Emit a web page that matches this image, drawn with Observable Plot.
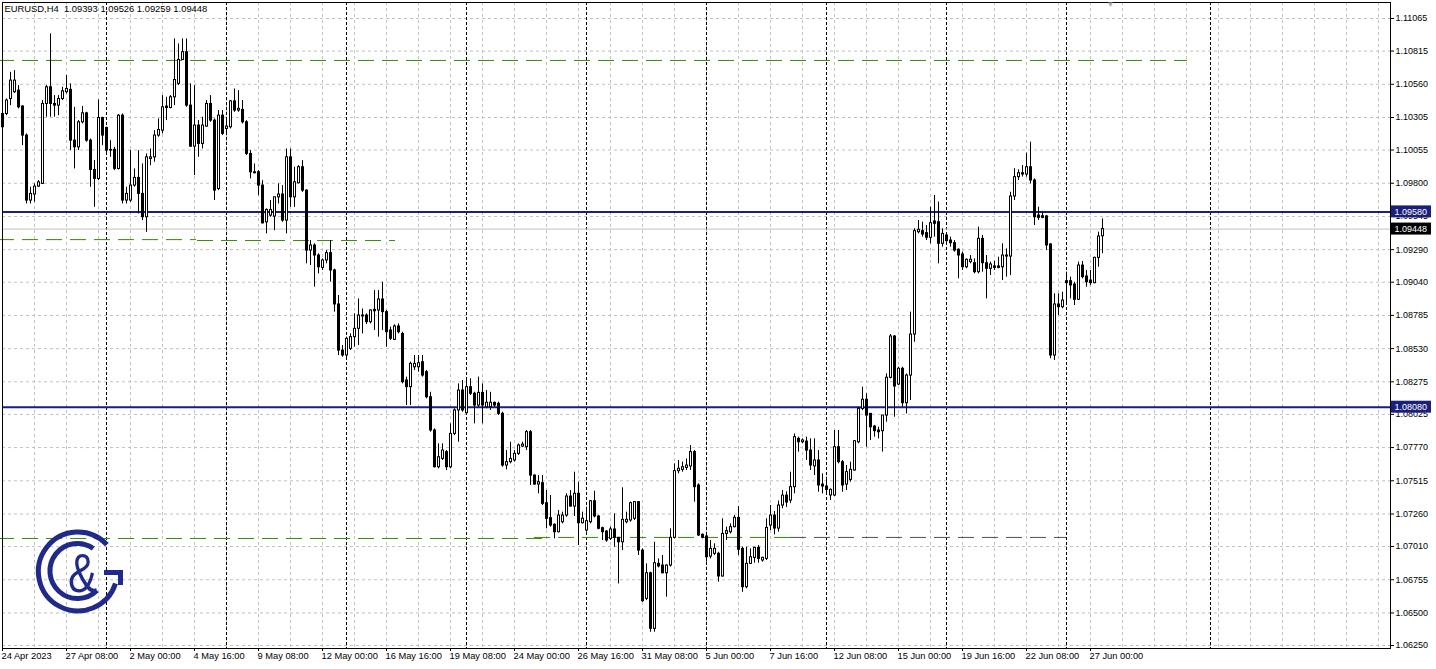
<!DOCTYPE html>
<html><head><meta charset="utf-8">
<script src="https://cdn.jsdelivr.net/npm/d3@7"></script>
<script src="https://cdn.jsdelivr.net/npm/@observablehq/plot@0.6"></script>
<style>
html,body{margin:0;padding:0;background:#fff;}
#wrap{position:relative;width:1436px;height:669px;overflow:hidden;}
#logo{position:absolute;left:0;top:0;pointer-events:none;}
</style></head><body><div id="wrap"></div>
<script>
// EURUSD H4 bars, 24 Apr 2023 16:00 .. 27 Jun 2023 12:00 (bar index 0..275)
const open = [
1.10230,1.10332,1.10447,1.10499,1.10511,1.10389,1.10166,1.09667,1.09713,1.09774,
1.09795,1.10409,1.10537,1.10409,1.10396,1.10447,1.10499,1.10517,1.10127,1.10076,
1.10268,1.10337,1.10127,1.09902,1.09833,1.10301,1.10225,1.10051,1.10056,1.09910,
1.10319,1.09667,1.09667,1.09782,1.09841,1.09718,1.09539,1.09987,1.09999,1.10166,
1.10204,1.10378,1.10378,1.10460,1.10563,1.10747,1.10806,1.10396,1.10081,1.10243,
1.10102,1.10235,1.10409,1.10281,1.09756,1.10319,1.10217,1.10230,1.10429,1.10358,
1.10363,1.10268,1.10025,1.09884,1.09884,1.09782,1.09500,1.09551,1.09544,1.09692,
1.09713,1.09513,1.09999,1.09692,1.09800,1.09923,1.09743,1.09283,1.09322,1.09245,
1.09150,1.09207,1.09263,1.09130,1.08869,1.08515,1.08477,1.08528,1.08618,1.08682,
1.08777,1.08784,1.08733,1.08817,1.08823,1.08907,1.08810,1.08669,1.08597,1.08700,
1.08643,1.08285,1.08234,1.08387,1.08387,1.08426,1.08349,1.08157,1.07901,1.07619,
1.07683,1.07735,1.07619,1.07875,1.08055,1.08208,1.08034,1.08234,1.08183,1.08093,
1.08190,1.08080,1.08080,1.08114,1.08106,1.08029,1.07632,1.07658,1.07671,1.07722,
1.07778,1.07773,1.07888,1.07555,1.07486,1.07497,1.07343,1.07228,1.07177,1.07120,
1.07197,1.07248,1.07394,1.07317,1.07415,1.07189,1.07133,1.07197,1.07358,1.07241,
1.07151,1.07125,1.07069,1.07141,1.07077,1.07043,1.07197,1.07210,1.07223,1.07351,
1.06979,1.06608,1.06805,1.06378,1.06877,1.06864,1.06805,1.06864,1.07077,1.07589,
1.07599,1.07614,1.07625,1.07735,1.07479,1.07100,1.07087,1.06933,1.06954,1.06954,
1.06780,1.07107,1.07120,1.07159,1.07230,1.06992,1.06698,1.06877,1.06923,1.07000,
1.06903,1.06915,1.07171,1.07248,1.07148,1.07325,1.07401,1.07363,1.07466,1.07837,
1.07811,1.07816,1.07747,1.07625,1.07671,1.07486,1.07471,1.07402,1.07402,1.07773,
1.07658,1.07486,1.07522,1.07594,1.07811,1.08067,1.08137,1.08029,1.07931,1.07901,
1.07896,1.08016,1.08306,1.08623,1.08254,1.08375,1.08111,1.08323,1.08638,1.09424,
1.09432,1.09417,1.09381,1.09506,1.09501,1.09335,1.09399,1.09360,1.09340,1.09289,
1.09253,1.09155,1.09194,1.09186,1.09117,1.09373,1.09186,1.09143,1.09161,1.09150,
1.09155,1.09237,1.09237,1.09698,1.09847,1.09877,1.09867,1.09923,1.09821,1.09552,
1.09547,1.09545,1.09330,1.08477,1.08869,1.08848,1.09048,1.09048,1.09022,1.08905,
1.09168,1.09084,1.09053,1.09033,1.09227,1.09393];
const high = [
1.10371,1.10447,1.10652,1.10665,1.10550,1.10396,1.10179,1.09769,1.09795,1.09820,
1.10435,1.10550,1.10947,1.10473,1.10473,1.10537,1.10627,1.10563,1.10383,1.10281,
1.10389,1.10345,1.10140,1.09974,1.10440,1.10307,1.10230,1.10127,1.10076,1.10327,
1.10332,1.09769,1.10051,1.09910,1.10051,1.09948,1.10025,1.10063,1.10204,1.10294,
1.10473,1.10460,1.10473,1.10908,1.10870,1.10908,1.10908,1.10563,1.10550,1.10281,
1.10307,1.10435,1.10473,1.10294,1.10358,1.10358,1.10281,1.10435,1.10524,1.10511,
1.10435,1.10281,1.10051,1.09948,1.09897,1.09820,1.09603,1.09667,1.09692,1.09795,
1.09782,1.10063,1.10063,1.09923,1.09935,1.09974,1.09750,1.09360,1.09335,1.09258,
1.09219,1.09283,1.09360,1.09140,1.08938,1.08554,1.08618,1.08643,1.08797,1.08912,
1.08835,1.08797,1.08828,1.08976,1.08976,1.09040,1.08823,1.08695,1.08713,1.08720,
1.08656,1.08311,1.08426,1.08477,1.08477,1.08477,1.08362,1.08195,1.07914,1.07799,
1.07799,1.07747,1.07952,1.08068,1.08259,1.08285,1.08285,1.08298,1.08195,1.08311,
1.08259,1.08208,1.08195,1.08119,1.08119,1.08042,1.07747,1.07811,1.07747,1.07797,
1.07811,1.07901,1.07901,1.07560,1.07555,1.07555,1.07440,1.07402,1.07184,1.07287,
1.07274,1.07415,1.07440,1.07581,1.07504,1.07274,1.07312,1.07363,1.07435,1.07248,
1.07159,1.07133,1.07159,1.07261,1.07080,1.07461,1.07274,1.07351,1.07356,1.07356,
1.06992,1.06877,1.06813,1.07043,1.06915,1.06941,1.06870,1.07146,1.07645,1.07671,
1.07658,1.07683,1.07786,1.07747,1.07492,1.07107,1.07095,1.07056,1.07031,1.06966,
1.07223,1.07159,1.07184,1.07248,1.07317,1.07005,1.07005,1.06992,1.07005,1.07018,
1.06928,1.07223,1.07325,1.07280,1.07360,1.07440,1.07430,1.07581,1.07875,1.07850,
1.07837,1.07850,1.07837,1.07837,1.07747,1.07568,1.07543,1.07453,1.07901,1.07901,
1.07671,1.07632,1.07658,1.07824,1.08080,1.08234,1.08183,1.08029,1.07940,1.07926,
1.08016,1.08336,1.08638,1.08630,1.08387,1.08387,1.08336,1.08810,1.09450,1.09514,
1.09501,1.09475,1.09616,1.09706,1.09655,1.09450,1.09411,1.09386,1.09360,1.09296,
1.09271,1.09219,1.09245,1.09219,1.09463,1.09399,1.09245,1.09194,1.09201,1.09232,
1.09335,1.09296,1.09731,1.09911,1.09903,1.09936,1.10031,1.10115,1.09834,1.09616,
1.09578,1.09552,1.09335,1.08951,1.08951,1.08963,1.09117,1.09079,1.09040,1.09194,
1.09199,1.09130,1.09130,1.09232,1.09424,1.09526];
const low = [
1.10127,1.10319,1.10396,1.10490,1.10371,1.10089,1.09641,1.09641,1.09654,1.09769,
1.09790,1.10307,1.10307,1.10307,1.10319,1.10435,1.10486,1.10051,1.09910,1.10051,
1.10255,1.10115,1.09769,1.09615,1.09820,1.10089,1.10012,1.09999,1.09897,1.09902,
1.09641,1.09641,1.09654,1.09769,1.09564,1.09513,1.09423,1.09935,1.09961,1.10153,
1.10179,1.10281,1.10371,1.10396,1.10550,1.10742,1.10383,1.10076,1.09859,1.09999,
1.10063,1.10230,1.10268,1.09667,1.09743,1.10166,1.10179,1.10217,1.10345,1.10345,
1.10255,1.10012,1.09833,1.09872,1.09705,1.09487,1.09411,1.09539,1.09436,1.09641,
1.09500,1.09411,1.09615,1.09615,1.09795,1.09730,1.09181,1.09168,1.09002,1.09104,
1.09130,1.09181,1.09040,1.08810,1.08477,1.08464,1.08451,1.08515,1.08541,1.08554,
1.08643,1.08715,1.08720,1.08669,1.08618,1.08669,1.08541,1.08592,1.08592,1.08643,
1.08259,1.08093,1.08093,1.08362,1.08349,1.08311,1.08144,1.07888,1.07614,1.07607,
1.07671,1.07594,1.07607,1.07862,1.07811,1.08042,1.08029,1.08170,1.07952,1.08080,
1.07952,1.08068,1.08055,1.08080,1.08016,1.07619,1.07599,1.07645,1.07658,1.07709,
1.07770,1.07747,1.07479,1.07480,1.07415,1.07325,1.07146,1.07159,1.07069,1.07115,
1.07184,1.07235,1.07312,1.07241,1.07018,1.07184,1.07120,1.07184,1.07230,1.07138,
1.07056,1.07043,1.07056,1.07005,1.06723,1.06979,1.07184,1.07197,1.07210,1.06941,
1.06582,1.06595,1.06352,1.06352,1.06846,1.06800,1.06621,1.06852,1.07069,1.07568,
1.07581,1.07594,1.07594,1.07351,1.07087,1.07069,1.06890,1.06915,1.06941,1.06736,
1.06775,1.07056,1.07107,1.07153,1.06941,1.06659,1.06685,1.06872,1.06882,1.06882,
1.06890,1.06903,1.07133,1.07100,1.07120,1.07300,1.07310,1.07340,1.07415,1.07735,
1.07799,1.07671,1.07594,1.07555,1.07427,1.07415,1.07402,1.07363,1.07394,1.07645,
1.07427,1.07440,1.07504,1.07589,1.07799,1.08054,1.07773,1.07824,1.07850,1.07837,
1.07735,1.07965,1.08298,1.08003,1.08246,1.08080,1.08029,1.08131,1.08579,1.09411,
1.09386,1.09360,1.09335,1.09386,1.09181,1.09309,1.09347,1.09309,1.09271,1.09066,
1.09130,1.09143,1.09181,1.09104,1.09104,1.09117,1.08912,1.09091,1.09130,1.09143,
1.09053,1.09079,1.09091,1.09667,1.09821,1.09847,1.09847,1.09795,1.09475,1.09514,
1.09527,1.09283,1.08452,1.08439,1.08784,1.08835,1.08861,1.08912,1.08861,1.08899,
1.09066,1.09002,1.09015,1.09028,1.09155,1.09259];
const close = [
1.10332,1.10435,1.10588,1.10588,1.10383,1.10166,1.09667,1.09718,1.09774,1.09807,
1.10409,1.10537,1.10409,1.10396,1.10447,1.10506,1.10524,1.10127,1.10076,1.10268,
1.10337,1.10127,1.09902,1.09833,1.10301,1.10166,1.10051,1.10056,1.09910,1.10319,
1.09667,1.09718,1.09782,1.09841,1.09718,1.09539,1.09999,1.09999,1.10166,1.10209,
1.10383,1.10389,1.10460,1.10593,1.10747,1.10806,1.10396,1.10081,1.10243,1.10102,
1.10243,1.10409,1.10281,1.09743,1.10319,1.10179,1.10235,1.10429,1.10358,1.10371,
1.10268,1.10025,1.09884,1.09877,1.09782,1.09492,1.09595,1.09595,1.09692,1.09713,
1.09513,1.09999,1.09692,1.09807,1.09923,1.09743,1.09283,1.09322,1.09245,1.09155,
1.09207,1.09263,1.09130,1.08869,1.08515,1.08477,1.08605,1.08618,1.08682,1.08784,
1.08784,1.08733,1.08823,1.08828,1.08907,1.08810,1.08656,1.08605,1.08700,1.08656,
1.08272,1.08234,1.08413,1.08413,1.08418,1.08323,1.08157,1.07901,1.07619,1.07696,
1.07747,1.07619,1.07875,1.08055,1.08208,1.08055,1.08234,1.08183,1.08093,1.08190,
1.08093,1.08114,1.08114,1.08093,1.08029,1.07632,1.07658,1.07683,1.07722,1.07786,
1.07793,1.07888,1.07555,1.07486,1.07504,1.07338,1.07223,1.07171,1.07120,1.07248,
1.07248,1.07394,1.07317,1.07415,1.07189,1.07223,1.07205,1.07358,1.07241,1.07146,
1.07120,1.07056,1.07141,1.07077,1.07043,1.07215,1.07215,1.07343,1.07351,1.06979,
1.06590,1.06805,1.06378,1.06882,1.06857,1.06805,1.06864,1.07077,1.07589,1.07607,
1.07619,1.07632,1.07735,1.07466,1.07095,1.07077,1.06928,1.06992,1.06992,1.06780,
1.07107,1.07128,1.07159,1.07230,1.06985,1.06698,1.06877,1.06928,1.07000,1.06915,
1.06923,1.07153,1.07248,1.07148,1.07325,1.07401,1.07348,1.07466,1.07850,1.07811,
1.07824,1.07747,1.07632,1.07671,1.07479,1.07471,1.07445,1.07445,1.07773,1.07658,
1.07479,1.07581,1.07599,1.07819,1.08067,1.08137,1.08016,1.07926,1.07896,1.07888,
1.08016,1.08306,1.08623,1.08239,1.08375,1.08111,1.08323,1.08638,1.09432,1.09442,
1.09406,1.09381,1.09493,1.09488,1.09335,1.09411,1.09355,1.09340,1.09283,1.09245,
1.09155,1.09212,1.09212,1.09117,1.09373,1.09186,1.09143,1.09176,1.09150,1.09161,
1.09245,1.09245,1.09698,1.09847,1.09877,1.09867,1.09923,1.09821,1.09539,1.09534,
1.09534,1.09322,1.08477,1.08869,1.08848,1.08899,1.09033,1.09015,1.08905,1.09168,
1.09079,1.09040,1.09033,1.09227,1.09391,1.09448];

const priceTicks = [1.11065,1.10815,1.10560,1.10305,1.10055,1.09800,1.09545,1.09290,1.09040,1.08785,
  1.08530,1.08275,1.08025,1.07770,1.07515,1.07260,1.07010,1.06755,1.06500,1.06250];
const timeTickBars = [0,16,32,48,64,80,96,112,128,144,160,176,192,208,224,240,256,272];
const timeTickLabels = ["24 Apr 2023","27 Apr 08:00","2 May 00:00","4 May 16:00","9 May 08:00","12 May 00:00",
  "16 May 16:00","19 May 08:00","24 May 00:00","26 May 16:00","31 May 08:00","5 Jun 00:00","7 Jun 16:00",
  "12 Jun 08:00","15 Jun 00:00","19 Jun 16:00","22 Jun 08:00","27 Jun 00:00"];
const weekStartBars = [26,56,86,116,146,176,206,236,266,302];
const levelPrices = [1.09580, 1.08080];
const bidPrice = [1.09448];
const greenLevelPrice = [1.10743, 1.09367, 1.09360, 1.07072, 1.07080];
const greenLevelFrom  = [-1, -1, 48.75, -1, 133];
const greenLevelTo    = [296.25, 48.5, 98.25, 135, 197];
const grayLevelPrice = [1.07080];
const grayLevelFrom = [197];
const grayLevelTo = [266];
const titleText = "EURUSD,H4\u00a0\u00a01.09393 1.09526 1.09259 1.09448";
const shiftMarkerBar = [277];

// ---- build tables
const bars = open.map((o, i) => ({i, o, h: high[i], l: low[i], c: close[i], top: Math.max(o, close[i]), bot: Math.min(o, close[i])}));
const bullBodies = bars.filter(d => d.c - d.o > 0.00012);
const greens = greenLevelPrice.map((p, k) => ({price: p, from: greenLevelFrom[k], to: greenLevelTo[k]}));
const grays = grayLevelPrice.map((p, k) => ({price: p, from: grayLevelFrom[k], to: grayLevelTo[k]}));
const timeTicks = timeTickBars.map((b, k) => ({bar: b, label: timeTickLabels[k]}));
const navy = "#1b1f7c";
const green = "#3a8a00";
const grid = "#c0c0c0";
const lastBar = 347; // right edge of plotting area in bar units
const boxes = [
  ...levelPrices.map(p => ({price: p, bg: navy})),
  ...bidPrice.map(p => ({price: p, bg: "black"}))
];
const halfBox = 0.00046;

const chart = Plot.plot({
  width: 1436, height: 669,
  marginTop: 2, marginLeft: 2, marginRight: 46, marginBottom: 21,
  x: {domain: [0, lastBar], axis: null},
  y: {domain: [1.06227, 1.11188], axis: null},
  style: {background: "white", fontFamily: "'Liberation Sans', Arial, sans-serif", fontSize: "9px", color: "black", overflow: "visible"},
  marks: [
    Plot.ruleY(priceTicks, {stroke: grid, strokeDasharray: "3,3"}),
    Plot.ruleX(d3.range(0, lastBar + 1, 8), {stroke: grid, strokeDasharray: "3,3"}),
    Plot.ruleX(weekStartBars, {stroke: "black", strokeDasharray: "3,2"}),
    Plot.ruleY(bidPrice, {stroke: "#c0c0c0"}),
    Plot.ruleY(levelPrices, {stroke: navy, strokeWidth: 2}),
    Plot.ruleY(greens, {y: "price", x1: "from", x2: "to", stroke: green, strokeDasharray: "16,8"}),
    Plot.ruleY(grays, {y: "price", x1: "from", x2: "to", stroke: "#505050", strokeDasharray: "16,8"}),
    // wicks
    Plot.ruleX(bars, {x: "i", y1: "h", y2: "l", stroke: "black"}),
    // bodies: 3px black block, then 1px white core for rising bars
    Plot.ruleX(bars, {x: "i", y1: "top", y2: "bot", stroke: "black", strokeWidth: 3, insetTop: -0.5, insetBottom: -0.5}),
    Plot.ruleX(bullBodies, {x: "i", y1: "top", y2: "bot", stroke: "white", strokeWidth: 1, insetTop: 0.5, insetBottom: 0.5}),
    Plot.frame({stroke: "black"}),
    Plot.axisY({anchor: "right", ticks: priceTicks, tickFormat: d => d.toFixed(5), tickSize: 3, tickPadding: 2, fontSize: 9}),
    Plot.axisX({anchor: "bottom", ticks: timeTickBars, tickFormat: () => "", tickSize: 3}),
    Plot.text(timeTicks, {x: "bar", text: "label", frameAnchor: "bottom", lineAnchor: "top", textAnchor: "start", dx: -1, dy: 4, fontSize: 9.3}),
    Plot.rect(boxes.filter(d => d.bg === navy), {x1: () => lastBar + 0.25, x2: () => lastBar + 10.25, y1: d => d.price - halfBox, y2: d => d.price + halfBox, fill: navy}),
    Plot.rect(boxes.filter(d => d.bg !== navy), {x1: () => lastBar + 0.25, x2: () => lastBar + 10.25, y1: d => d.price - halfBox, y2: d => d.price + halfBox, fill: "black"}),
    Plot.text(boxes, {x: () => lastBar + 0.25, y: "price", text: d => d.price.toFixed(5), textAnchor: "start", dx: 3, fill: "white", fontSize: 9}),
    Plot.text([titleText], {frameAnchor: "top-left", textAnchor: "start", dx: 2, dy: 3, fontSize: 9.4}),
    Plot.text(shiftMarkerBar, {x: d => d, text: () => "▼", frameAnchor: "top", lineAnchor: "top", dy: -1, fontSize: 8, fill: "#aaaaaa"})
  ]
});
document.getElementById("wrap").appendChild(chart);

// logo overlay
const ns = "http://www.w3.org/2000/svg";
const logo = document.createElementNS(ns, "svg");
logo.setAttribute("id", "logo");
logo.setAttribute("width", 1436);
logo.setAttribute("height", 669);
logo.innerHTML = `
<g fill="none" stroke="#1f2a8a" stroke-width="5">
  <path d="M 106.9 544.6 A 39.5 39.5 0 1 0 115.5 583.5"/>
  <path d="M 104 572.5 L 120.5 572.5 L 120.5 585"/>
  <path d="M 93.3 548.5 A 27.5 27.5 0 1 0 96.9 590.4"/>
</g>
<text transform="translate(82.5,592) scale(0.78,1)" text-anchor="middle" font-family="'Liberation Sans', Arial, sans-serif" font-size="56" fill="#1f2a8a">&amp;</text>`;
document.getElementById("wrap").appendChild(logo);
</script>
</body></html>
